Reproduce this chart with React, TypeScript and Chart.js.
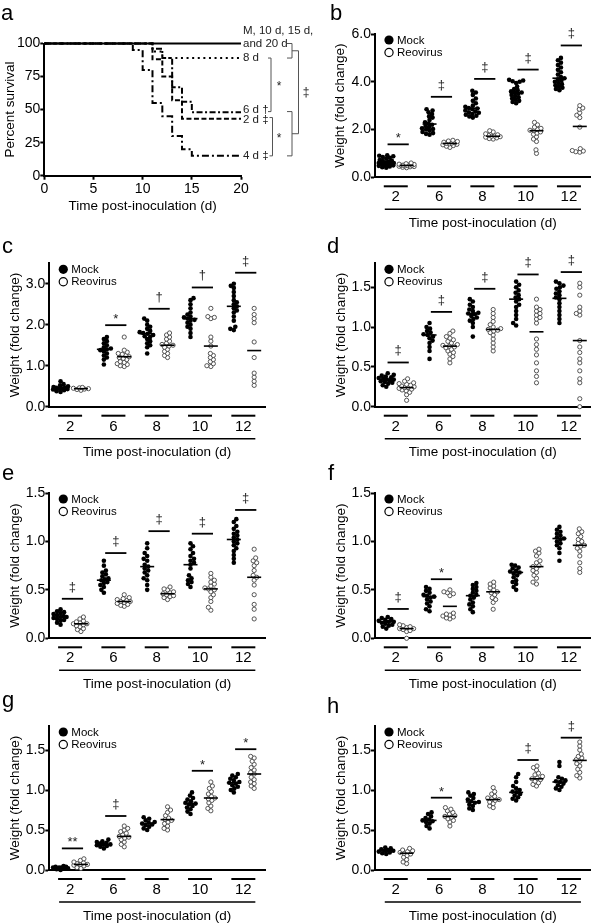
import React, { useEffect, useRef } from 'react';
import { Chart, registerables } from 'chart.js';

Chart.register(...registerables);

const FONT = "'Liberation Sans', Arial, Helvetica, sans-serif";

// ---------------- panel a : survival ----------------
const survXTicks = [0, 5, 10, 15, 20];
const survYTicks = [0, 25, 50, 75, 100];
const mDays = [0, 20];
const mSurv = [100, 100];
const d8Days = [0, 11, 12, 20];
const d8Surv = [100, 94, 89, 89];
const d6Days = [0, 11, 12, 13, 14, 15, 20];
const d6Surv = [100, 96, 89, 67, 56, 48, 48];
const d2Days = [0, 11, 12, 13, 14, 20];
const d2Surv = [100, 88, 75, 57, 43, 43];
const d4Days = [0, 9, 10, 11, 12, 13, 14, 15, 20];
const d4Surv = [100, 95, 80, 55, 45, 30, 20, 15, 15];
const endLabels = ['and 20 d', '8 d', '6 d \u2020', '2 d \u2021', '4 d \u2021'];
const endLabelAt = [100, 89, 50, 42.5, 15];

// ---------------- dot panels ----------------
const dayLabels = ['2', '6', '8', '10', '12'];

// b
const bYTicks = [0, 2, 4, 6];
const bMock = [
  [0.40, 0.42, 0.45, 0.48, 0.50, 0.52, 0.55, 0.56, 0.58, 0.60, 0.60, 0.62, 0.65, 0.68, 0.70, 0.72, 0.78, 0.82, 0.85, 0.88, 0.90, 0.92],
  [1.78, 1.82, 1.85, 1.90, 1.95, 2.00, 2.02, 2.05, 2.10, 2.15, 2.20, 2.25, 2.30, 2.40, 2.50, 2.55, 2.65, 2.72, 2.80, 2.85],
  [2.50, 2.55, 2.58, 2.62, 2.65, 2.70, 2.72, 2.75, 2.80, 2.85, 2.88, 2.90, 2.95, 3.00, 3.10, 3.20, 3.30, 3.45, 3.55, 3.62],
  [3.10, 3.15, 3.20, 3.25, 3.30, 3.35, 3.40, 3.45, 3.50, 3.55, 3.55, 3.60, 3.65, 3.70, 3.80, 3.95, 4.00, 4.02, 4.05, 4.08],
  [3.65, 3.70, 3.75, 3.80, 3.85, 3.90, 3.95, 4.00, 4.05, 4.10, 4.15, 4.20, 4.30, 4.40, 4.50, 4.60, 4.70, 4.80, 4.90, 5.00],
];
const bReo = [
  [0.40, 0.42, 0.44, 0.45, 0.46, 0.48, 0.49, 0.50, 0.50, 0.51, 0.52, 0.54, 0.55, 0.57, 0.60],
  [1.25, 1.30, 1.33, 1.36, 1.38, 1.40, 1.42, 1.43, 1.45, 1.47, 1.50, 1.52, 1.55],
  [1.60, 1.62, 1.65, 1.68, 1.70, 1.72, 1.73, 1.75, 1.78, 1.82, 1.90, 1.95],
  [1.00, 1.15, 1.50, 1.60, 1.70, 1.80, 1.85, 1.90, 1.95, 1.97, 2.00, 2.05, 2.10, 2.20, 2.30],
  [1.05, 1.07, 1.10, 1.12, 1.20, 2.10, 2.50, 2.60, 2.70, 2.85, 2.90, 3.00],
];
const bMockMed = [0.6, 2.23, 2.89, 3.55, 4.15];
const bReoMed = [0.5, 1.42, 1.72, 1.95, 2.13];
const bSigAt = [1.38, 3.37, 4.12, 4.51, 5.52];
const bSigMark = ['*', '\u2021', '\u2021', '\u2021', '\u2021'];

// c
const cYTicks = [0, 1, 2, 3];
const cMock = [
  [0.36, 0.38, 0.40, 0.42, 0.43, 0.44, 0.45, 0.46, 0.47, 0.48, 0.50, 0.52, 0.55, 0.62],
  [1.03, 1.15, 1.20, 1.25, 1.30, 1.35, 1.38, 1.40, 1.42, 1.45, 1.50, 1.55, 1.60, 1.65, 1.70],
  [1.30, 1.45, 1.50, 1.55, 1.60, 1.65, 1.70, 1.72, 1.75, 1.78, 1.80, 1.82, 1.85, 1.90, 1.95, 2.00, 2.10, 2.15],
  [1.70, 1.80, 1.90, 1.95, 2.00, 2.05, 2.10, 2.12, 2.15, 2.18, 2.20, 2.25, 2.30, 2.40, 2.50, 2.60, 2.65],
  [1.87, 1.90, 1.95, 2.10, 2.20, 2.30, 2.35, 2.40, 2.45, 2.50, 2.55, 2.60, 2.70, 2.80, 2.90, 2.95, 3.00],
];
const cReo = [
  [0.40, 0.42, 0.43, 0.44, 0.45, 0.46, 0.47],
  [0.98, 1.00, 1.03, 1.05, 1.08, 1.10, 1.15, 1.18, 1.20, 1.22, 1.25, 1.28, 1.30, 1.33, 1.38, 1.70],
  [1.20, 1.25, 1.30, 1.35, 1.40, 1.45, 1.48, 1.50, 1.52, 1.55, 1.60, 1.65, 1.70, 1.75, 1.80],
  [0.98, 1.00, 1.05, 1.10, 1.15, 1.20, 1.25, 1.30, 1.48, 1.60, 1.70, 2.15, 2.18, 2.20, 2.40],
  [0.52, 0.62, 0.72, 0.82, 1.20, 1.58, 2.05, 2.15, 2.25, 2.40],
];
const cMockMed = [0.45, 1.4, 1.78, 2.15, 2.45];
const cReoMed = [0.44, 1.22, 1.5, 1.48, 1.37];
const cSigAt = [null, 1.99, 2.39, 2.91, 3.27];
const cSigMark = [null, '*', '\u2020', '\u2020', '\u2021'];

// d
const dYTicks = [0, 0.5, 1, 1.5];
const dMock = [
  [0.25, 0.27, 0.29, 0.30, 0.31, 0.32, 0.33, 0.34, 0.34, 0.35, 0.36, 0.37, 0.38, 0.39, 0.40, 0.42],
  [0.60, 0.70, 0.75, 0.80, 0.83, 0.86, 0.88, 0.90, 0.91, 0.93, 0.95, 0.98, 1.00, 1.05],
  [0.88, 1.00, 1.05, 1.08, 1.10, 1.12, 1.14, 1.16, 1.17, 1.18, 1.20, 1.22, 1.25, 1.28, 1.32, 1.35],
  [1.02, 1.05, 1.10, 1.15, 1.20, 1.25, 1.28, 1.32, 1.35, 1.37, 1.40, 1.43, 1.46, 1.50, 1.53, 1.57],
  [1.05, 1.10, 1.15, 1.20, 1.25, 1.30, 1.35, 1.37, 1.40, 1.42, 1.45, 1.48, 1.50, 1.52, 1.55, 1.57],
];
const dReo = [
  [0.08, 0.15, 0.18, 0.20, 0.21, 0.22, 0.23, 0.24, 0.24, 0.25, 0.26, 0.27, 0.28, 0.29, 0.30, 0.32, 0.35],
  [0.55, 0.60, 0.63, 0.66, 0.68, 0.70, 0.72, 0.74, 0.75, 0.76, 0.77, 0.78, 0.80, 0.82, 0.84, 0.86, 0.88, 0.92, 0.95],
  [0.70, 0.75, 0.80, 0.85, 0.90, 0.93, 0.95, 0.96, 0.97, 0.98, 1.00, 1.03, 1.07, 1.12, 1.17, 1.22],
  [0.30, 0.38, 0.45, 0.55, 0.65, 0.72, 0.78, 0.85, 1.05, 1.10, 1.12, 1.15, 1.17, 1.20, 1.22, 1.25, 1.35],
  [0.00, 0.10, 0.30, 0.35, 0.45, 0.55, 0.60, 0.68, 0.75, 0.83, 1.15, 1.17, 1.20, 1.25, 1.40, 1.50, 1.55],
];
const dMockMed = [0.34, 0.9, 1.17, 1.35, 1.36];
const dReoMed = [0.24, 0.76, 0.97, 0.94, 0.83];
const dSigAt = [0.555, 1.19, 1.48, 1.66, 1.69];
const dSigMark = ['\u2021', '\u2021', '\u2021', '\u2021', '\u2021'];

// e
const eYTicks = [0, 0.5, 1, 1.5];
const eMock = [
  [0.14, 0.16, 0.18, 0.19, 0.20, 0.21, 0.22, 0.22, 0.23, 0.24, 0.25, 0.26, 0.27, 0.28, 0.30],
  [0.47, 0.50, 0.53, 0.55, 0.57, 0.58, 0.60, 0.61, 0.62, 0.64, 0.66, 0.68, 0.70, 0.75, 0.80],
  [0.50, 0.55, 0.60, 0.62, 0.65, 0.68, 0.70, 0.72, 0.74, 0.76, 0.80, 0.82, 0.85, 0.88, 0.93, 0.98],
  [0.53, 0.56, 0.58, 0.60, 0.62, 0.65, 0.72, 0.76, 0.78, 0.80, 0.82, 0.85, 0.88, 0.92, 0.95, 0.98],
  [0.78, 0.82, 0.86, 0.90, 0.93, 0.96, 0.98, 1.00, 1.02, 1.04, 1.06, 1.08, 1.10, 1.13, 1.16, 1.20, 1.23],
];
const eReo = [
  [0.07, 0.09, 0.10, 0.12, 0.13, 0.14, 0.15, 0.15, 0.16, 0.17, 0.18, 0.20, 0.22],
  [0.33, 0.34, 0.35, 0.36, 0.37, 0.38, 0.38, 0.39, 0.40, 0.41, 0.42, 0.45],
  [0.40, 0.42, 0.43, 0.44, 0.45, 0.46, 0.47, 0.48, 0.50, 0.51, 0.53],
  [0.29, 0.32, 0.38, 0.42, 0.45, 0.48, 0.50, 0.51, 0.52, 0.54, 0.56, 0.58, 0.60, 0.63, 0.67],
  [0.20, 0.30, 0.35, 0.45, 0.55, 0.60, 0.63, 0.65, 0.70, 0.75, 0.78, 0.80, 0.83, 0.92],
];
const eMockMed = [0.22, 0.6, 0.74, 0.76, 1.02];
const eReoMed = [0.15, 0.38, 0.46, 0.51, 0.63];
const eSigAt = [0.408, 0.88, 1.106, 1.08, 1.325];
const eSigMark = ['\u2021', '\u2021', '\u2021', '\u2021', '\u2021'];

// f
const fYTicks = [0, 0.5, 1, 1.5];
const fMock = [
  [0.10, 0.12, 0.13, 0.14, 0.15, 0.16, 0.17, 0.17, 0.18, 0.19, 0.20, 0.21, 0.22],
  [0.28, 0.30, 0.33, 0.36, 0.38, 0.40, 0.42, 0.43, 0.44, 0.45, 0.47, 0.49, 0.51, 0.53],
  [0.27, 0.30, 0.33, 0.35, 0.37, 0.40, 0.42, 0.44, 0.45, 0.47, 0.49, 0.51, 0.53, 0.55, 0.57],
  [0.50, 0.53, 0.56, 0.58, 0.60, 0.63, 0.65, 0.67, 0.68, 0.69, 0.70, 0.72, 0.73, 0.75, 0.76],
  [0.80, 0.88, 0.93, 0.96, 0.98, 1.00, 1.02, 1.03, 1.04, 1.06, 1.08, 1.10, 1.12, 1.15],
];
const fReo = [
  [0.00, 0.07, 0.08, 0.09, 0.10, 0.10, 0.11, 0.12, 0.13, 0.14],
  [0.20, 0.21, 0.22, 0.23, 0.24, 0.25, 0.26, 0.44, 0.46, 0.47, 0.48, 0.50],
  [0.30, 0.37, 0.40, 0.42, 0.45, 0.47, 0.48, 0.50, 0.52, 0.54, 0.56, 0.58],
  [0.56, 0.58, 0.62, 0.65, 0.68, 0.70, 0.72, 0.74, 0.75, 0.78, 0.80, 0.85, 0.88, 0.90, 0.92],
  [0.68, 0.72, 0.78, 0.85, 0.90, 0.93, 0.95, 0.96, 0.98, 1.00, 1.02, 1.05, 1.08, 1.10, 1.13],
];
const fMockMed = [0.17, 0.43, 0.44, 0.68, 1.03];
const fReoMed = [0.1, 0.33, 0.48, 0.74, 0.96];
const fSigAt = [0.303, 0.61, null, null, null];
const fSigMark = ['\u2021', '*', null, null, null];

// g
const gYTicks = [0, 0.5, 1, 1.5];
const gMock = [
  [0.00, 0.01, 0.02, 0.02, 0.03, 0.03, 0.03, 0.04, 0.04, 0.05],
  [0.27, 0.29, 0.30, 0.31, 0.32, 0.32, 0.33, 0.34, 0.35, 0.36, 0.38],
  [0.50, 0.52, 0.54, 0.56, 0.57, 0.58, 0.59, 0.60, 0.62, 0.64, 0.66],
  [0.70, 0.73, 0.76, 0.78, 0.80, 0.82, 0.83, 0.84, 0.86, 0.88, 0.90, 0.93, 0.97],
  [0.97, 1.00, 1.02, 1.04, 1.06, 1.08, 1.09, 1.10, 1.12, 1.14, 1.16, 1.18, 1.20],
];
const gReo = [
  [0.02, 0.03, 0.05, 0.06, 0.07, 0.07, 0.08, 0.09, 0.10, 0.12, 0.14],
  [0.29, 0.32, 0.35, 0.38, 0.40, 0.41, 0.42, 0.44, 0.46, 0.48, 0.50, 0.52, 0.55],
  [0.50, 0.52, 0.55, 0.58, 0.60, 0.62, 0.63, 0.65, 0.68, 0.72, 0.75, 0.79],
  [0.74, 0.77, 0.80, 0.84, 0.87, 0.89, 0.90, 0.92, 0.95, 0.98, 1.02, 1.05, 1.10],
  [1.02, 1.05, 1.08, 1.10, 1.13, 1.16, 1.20, 1.22, 1.25, 1.28, 1.32, 1.36, 1.40, 1.42],
];
const gMockMed = [0.03, 0.32, 0.58, 0.83, 1.09];
const gReoMed = [0.07, 0.42, 0.63, 0.9, 1.2];
const gSigAt = [0.27, 0.675, null, 1.24, 1.51];
const gSigMark = ['**', '\u2021', null, '*', '*'];

// h
const hYTicks = [0, 0.5, 1, 1.5];
const hMock = [
  [0.20, 0.21, 0.22, 0.23, 0.24, 0.24, 0.25, 0.26, 0.27, 0.28],
  [0.52, 0.55, 0.58, 0.60, 0.61, 0.62, 0.63, 0.65, 0.67, 0.70, 0.72],
  [0.75, 0.77, 0.80, 0.82, 0.84, 0.85, 0.86, 0.88, 0.90, 0.93, 0.95, 0.97],
  [0.87, 0.89, 0.91, 0.93, 0.95, 0.97, 0.98, 1.00, 1.02, 1.05, 1.10, 1.16, 1.20],
  [1.00, 1.02, 1.04, 1.06, 1.08, 1.10, 1.11, 1.12, 1.14, 1.16, 1.30, 1.35],
];
const hReo = [
  [0.08, 0.10, 0.13, 0.16, 0.18, 0.20, 0.21, 0.22, 0.23, 0.24, 0.25, 0.27],
  [0.55, 0.60, 0.62, 0.64, 0.66, 0.67, 0.68, 0.70, 0.72, 0.74, 0.76, 0.78],
  [0.78, 0.80, 0.83, 0.85, 0.87, 0.88, 0.89, 0.90, 0.92, 0.95, 0.98, 1.03],
  [1.05, 1.07, 1.09, 1.11, 1.13, 1.14, 1.15, 1.17, 1.19, 1.21, 1.25, 1.28, 1.30],
  [1.15, 1.18, 1.22, 1.26, 1.30, 1.33, 1.36, 1.38, 1.40, 1.42, 1.45, 1.50, 1.55, 1.60],
];
const hMockMed = [0.24, 0.62, 0.85, 0.97, 1.1];
const hReoMed = [0.21, 0.67, 0.88, 1.14, 1.37];
const hSigAt = [null, 0.904, null, 1.375, 1.654];
const hSigMark = [null, '*', null, '\u2021', '\u2021'];

// ---------------- helpers ----------------
const X_MIN = -0.48;
const X_MAX = 4.5;
const MOCK_OFF = -0.22;
const REO_OFF = 0.25;
const SWARM_D = 3.6;
const SWARM_CAP = 7.5;

// compact beeswarm: closest-to-centre free slot within +/-cap, else least-crowded slot
function swarm(vals: number[], pxY: number, d: number, cap: number): number[] {
  const idx = vals.map((_, i) => i).sort((a, b) => vals[a] - vals[b]);
  const placed: { x: number; y: number }[] = [];
  const out = new Array(vals.length).fill(0);
  const slots: number[] = [0];
  for (let k = 0.5; k <= cap + 1e-9; k += 0.5) slots.push(k, -k);
  for (const i of idx) {
    const y = vals[i] * pxY;
    const flip = placed.length % 2 ? 1 : -1;
    const order = slots.slice().sort((a, b) => Math.abs(a) - Math.abs(b) || flip * (a - b));
    let best = 0;
    let bestScore = -1;
    let found = false;
    for (const c of order) {
      let minD = Infinity;
      for (const p of placed) {
        const dd = Math.hypot(c - p.x, p.y - y);
        if (dd < minD) minD = dd;
      }
      if (minD >= d) { best = c; found = true; break; }
      if (minD > bestScore + 0.05) { bestScore = minD; best = c; }
    }
    if (!found && placed.length === 0) best = 0;
    placed.push({ x: best, y });
    out[i] = best;
  }
  return out;
}

function seg(ctx: any, x1: number, y1: number, x2: number, y2: number, w: number, color = '#000') {
  ctx.beginPath();
  ctx.moveTo(x1, y1);
  ctx.lineTo(x2, y2);
  ctx.lineWidth = w;
  ctx.strokeStyle = color;
  ctx.setLineDash([]);
  ctx.stroke();
}

function symbol(ctx: any, text: string, x: number, lineY: number) {
  ctx.font = `13px ${FONT}`;
  ctx.textAlign = 'center';
  ctx.textBaseline = 'alphabetic';
  ctx.fillStyle = '#222';
  const m = ctx.measureText(text);
  ctx.fillText(text, x, lineY - 6 - m.actualBoundingBoxDescent);
}

function letter(ctx: any, l: string, x: number, y: number) {
  ctx.font = `22px ${FONT}`;
  ctx.textAlign = 'left';
  ctx.textBaseline = 'alphabetic';
  ctx.fillStyle = '#000';
  ctx.fillText(l, x, y);
}

const tickFont = { family: FONT, size: 14 };
const titleFont = { family: FONT, size: 13.5 };

// ---------------- panel a config ----------------
function survConfig(box: any) {
  const a = { l: 44.3, t: 43.5, r: 241, b: 175.7 };
  const curves = [
    { days: mDays, surv: mSurv, dash: [] as number[] },
    { days: d8Days, surv: d8Surv, dash: [2, 3.6] },
    { days: d6Days, surv: d6Surv, dash: [6, 2.5, 2, 2.5] },
    { days: d2Days, surv: d2Surv, dash: [5, 2.5] },
    { days: d4Days, surv: d4Surv, dash: [7, 3, 2, 3] },
  ];
  const deco = {
    id: 'decoA',
    afterDraw(chart: any) {
      const ctx = chart.ctx;
      const xs = chart.scales.x;
      const ys = chart.scales.y;
      ctx.save();
      const x20 = xs.getPixelForValue(20);
      ctx.font = `11.5px ${FONT}`;
      ctx.fillStyle = '#222';
      ctx.textAlign = 'left';
      ctx.textBaseline = 'middle';
      ctx.fillText('M, 10 d, 15 d,', x20 + 2, ys.getPixelForValue(100) - 13);
      endLabels.forEach((t, i) => ctx.fillText(t, x20 + 2, ys.getPixelForValue(endLabelAt[i])));
      const g = '#555';
      const bracket = (xv: number, len: number, v1: number, v2: number) => {
        const y1 = ys.getPixelForValue(v1);
        const y2 = ys.getPixelForValue(v2);
        ctx.beginPath();
        ctx.moveTo(xv - len, y1);
        ctx.lineTo(xv, y1);
        ctx.lineTo(xv, y2);
        ctx.lineTo(xv - len, y2);
        ctx.lineWidth = 1;
        ctx.strokeStyle = g;
        ctx.setLineDash([]);
        ctx.stroke();
      };
      bracket(x20 + 51, 5, 100, 89);
      bracket(x20 + 30, 3, 89, 48.5);
      bracket(x20 + 31.5, 3, 44, 15);
      bracket(x20 + 51, 5, 48.5, 15);
      bracket(x20 + 57.5, 6.5, 94.5, 31.75);
      ctx.font = `12px ${FONT}`;
      ctx.textAlign = 'center';
      ctx.fillStyle = '#222';
      ctx.fillText('*', x20 + 38, ys.getPixelForValue(68.75) + 2);
      ctx.fillText('*', x20 + 38, ys.getPixelForValue(29.5) + 2);
      ctx.fillText('\u2021', x20 + 65, ys.getPixelForValue(63));
      letter(ctx, 'a', 1 - box.x, 19.5 - box.y);
      ctx.restore();
    },
  };
  return {
    type: 'line',
    data: {
      datasets: curves.map((c) => ({
        data: c.days.map((d, i) => ({ x: d, y: c.surv[i] })),
        stepped: 'before',
        borderColor: '#000',
        borderWidth: 2,
        borderDash: c.dash,
        pointRadius: 0,
        fill: false,
        clip: false,
      })),
    },
    options: {
      animation: false,
      responsive: false,
      events: [],
      layout: { autoPadding: false, padding: { left: 0, top: a.t - box.y, right: box.x + box.w - a.r, bottom: 0 } },
      plugins: { legend: { display: false }, tooltip: { enabled: false } },
      scales: {
        x: {
          type: 'linear', min: 0, max: 20,
          afterBuildTicks: (s: any) => { s.ticks = survXTicks.map((v) => ({ value: v })); },
          ticks: { font: tickFont, color: '#000', padding: 1, maxRotation: 0, autoSkip: false },
          grid: { display: true, drawOnChartArea: false, drawTicks: true, tickLength: 4, tickWidth: 2, tickColor: '#000' },
          border: { display: true, color: '#000', width: 2 },
          title: { display: true, text: 'Time post-inoculation (d)', font: titleFont, color: '#000', padding: { top: 0, bottom: 20.9 } },
          afterFit: (s: any) => { s.height = box.y + box.h - a.b; },
        },
        y: {
          type: 'linear', min: 0, max: 100,
          afterBuildTicks: (s: any) => { s.ticks = survYTicks.map((v) => ({ value: v })); },
          ticks: { font: tickFont, color: '#000', padding: 0 },
          grid: { display: true, drawOnChartArea: false, drawTicks: true, tickLength: 4, tickWidth: 2, tickColor: '#000' },
          border: { display: true, color: '#000', width: 2 },
          title: { display: true, text: 'Percent survival', font: titleFont, color: '#000', padding: { top: 10 - box.x - 8.1, bottom: 0 } },
          afterFit: (s: any) => { s.width = a.l - box.x; },
        },
      },
    },
    plugins: [deco],
  };
}

// ---------------- dot panel config ----------------
function dotConfig(s: any) {
  const c = s.box;
  const a = s.area;
  const pxY = (a.b - a.t) / s.yMax;
  const pxX = (a.r - a.l) / (X_MAX - X_MIN);
  const pts = (groups: number[][], off: number) =>
    groups.flatMap((vals, g) => {
      const o = swarm(vals, pxY, SWARM_D, SWARM_CAP);
      return vals.map((v, i) => ({ x: g + off + o[i] / pxX, y: v }));
    });
  const deco = {
    id: 'decoDot',
    afterDraw(chart: any) {
      const ctx = chart.ctx;
      const xs = chart.scales.x;
      const ys = chart.scales.y;
      const ca = chart.chartArea;
      ctx.save();
      for (let g = 0; g < dayLabels.length; g++) {
        const xm = xs.getPixelForValue(g + MOCK_OFF);
        const xr = xs.getPixelForValue(g + REO_OFF);
        const ym = ys.getPixelForValue(s.mockMed[g]);
        const yr = ys.getPixelForValue(s.reoMed[g]);
        seg(ctx, xm - 7, ym, xm + 7, ym, 1.6);
        seg(ctx, xr - 7, yr, xr + 7, yr, 1.6);
        if (s.sigAt[g] != null) {
          const y = ys.getPixelForValue(s.sigAt[g]);
          const x1 = xs.getPixelForValue(g - 0.19);
          const x2 = xs.getPixelForValue(g + 0.3);
          seg(ctx, x1, y, x2, y, 1.8);
          symbol(ctx, s.sigMark[g], (x1 + x2) / 2, y);
        }
        const xc = xs.getPixelForValue(g);
        seg(ctx, xc - 12, ca.bottom + 9, xc + 12, ca.bottom + 9, 2);
      }
      seg(ctx, xs.getPixelForValue(0) - 11, ca.bottom + 32, xs.getPixelForValue(dayLabels.length - 1) + 12, ca.bottom + 32, 1.5);
      // legend
      const lx = ca.left + 14;
      const ly = ca.top + 6;
      ctx.beginPath();
      ctx.arc(lx, ly, 4.6, 0, Math.PI * 2);
      ctx.fillStyle = '#000';
      ctx.fill();
      ctx.beginPath();
      ctx.arc(lx, ly + 12.5, 4.1, 0, Math.PI * 2);
      ctx.lineWidth = 1.2;
      ctx.strokeStyle = '#000';
      ctx.stroke();
      ctx.font = `11.5px ${FONT}`;
      ctx.textAlign = 'left';
      ctx.textBaseline = 'middle';
      ctx.fillStyle = '#000';
      ctx.fillText('Mock', lx + 8, ly + 0.5);
      ctx.fillText('Reovirus', lx + 8, ly + 13);
      letter(ctx, s.letter, s.letterAt[0] - c.x, s.letterAt[1] - c.y);
      ctx.restore();
    },
  };
  return {
    type: 'scatter',
    data: {
      datasets: [
        { label: 'Mock', data: pts(s.mock, MOCK_OFF), pointRadius: 2.3, pointBackgroundColor: '#000', pointBorderColor: '#000', pointBorderWidth: 0, clip: false },
        { label: 'Reovirus', data: pts(s.reo, REO_OFF), pointRadius: 2.1, pointBackgroundColor: '#fff', pointBorderColor: '#444', pointBorderWidth: 0.9, clip: false },
      ],
    },
    options: {
      animation: false,
      responsive: false,
      events: [],
      layout: { autoPadding: false, padding: { left: 0, top: a.t - c.y, right: c.x + c.w - a.r, bottom: 0 } },
      plugins: { legend: { display: false }, tooltip: { enabled: false } },
      scales: {
        x: {
          type: 'linear', position: 'bottom', min: X_MIN, max: X_MAX,
          afterBuildTicks: (sc: any) => { sc.ticks = dayLabels.map((_, i) => ({ value: i })); },
          ticks: { callback: (v: any) => dayLabels[v] ?? '', font: { family: FONT, size: 15 }, color: '#000', padding: 11, maxRotation: 0, autoSkip: false },
          grid: { display: false, drawTicks: false },
          border: { display: true, color: '#000', width: 2 },
          title: { display: true, text: 'Time post-inoculation (d)', font: titleFont, color: '#000', padding: { top: 0, bottom: Math.max(0, c.y + c.h - a.b - 46 - 8.1) } },
          afterFit: (sc: any) => { sc.height = c.y + c.h - a.b; },
        },
        y: {
          type: 'linear', position: 'left', min: 0, max: s.yMax,
          afterBuildTicks: (sc: any) => { sc.ticks = s.yTicks.map((v: number) => ({ value: v })); },
          ticks: { callback: (v: any) => Number(v).toFixed(1), font: tickFont, color: '#000', padding: 0 },
          grid: { display: true, drawOnChartArea: false, drawTicks: true, tickLength: 4, tickWidth: 2, tickColor: '#000' },
          border: { display: true, color: '#000', width: 2 },
          title: { display: true, text: 'Weight (fold change)', font: titleFont, color: '#000', padding: { top: s.yTitleX - c.x - 8.1, bottom: 0 } },
          afterFit: (sc: any) => { sc.width = a.l - c.x; },
        },
      },
    },
    plugins: [deco],
  };
}

const LEFT_AREA = { l: 49.3, r: 265 };
const RIGHT_AREA = { l: 375, r: 590.6 };

const dotPanels = [
  { letter: 'b', letterAt: [330, 20], box: { x: 300, y: 0, w: 292, h: 235 }, area: { ...RIGHT_AREA, t: 34, b: 177.3 }, yTitleX: 340, yMax: 6, yTicks: bYTicks, mock: bMock, reo: bReo, mockMed: bMockMed, reoMed: bReoMed, sigAt: bSigAt, sigMark: bSigMark },
  { letter: 'c', letterAt: [2, 253], box: { x: 0, y: 232, w: 300, h: 233 }, area: { ...LEFT_AREA, t: 263.3, b: 406.7 }, yTitleX: 15, yMax: 3.5, yTicks: cYTicks, mock: cMock, reo: cReo, mockMed: cMockMed, reoMed: cReoMed, sigAt: cSigAt, sigMark: cSigMark },
  { letter: 'd', letterAt: [327, 253], box: { x: 300, y: 232, w: 292, h: 233 }, area: { ...RIGHT_AREA, t: 263.3, b: 406.7 }, yTitleX: 341, yMax: 1.8, yTicks: dYTicks, mock: dMock, reo: dReo, mockMed: dMockMed, reoMed: dReoMed, sigAt: dSigAt, sigMark: dSigMark },
  { letter: 'e', letterAt: [2, 480], box: { x: 0, y: 458, w: 300, h: 242 }, area: { ...LEFT_AREA, t: 493, b: 638.3 }, yTitleX: 15, yMax: 1.5, yTicks: eYTicks, mock: eMock, reo: eReo, mockMed: eMockMed, reoMed: eReoMed, sigAt: eSigAt, sigMark: eSigMark },
  { letter: 'f', letterAt: [328, 480], box: { x: 300, y: 458, w: 292, h: 242 }, area: { ...RIGHT_AREA, t: 493, b: 638.3 }, yTitleX: 341, yMax: 1.5, yTicks: fYTicks, mock: fMock, reo: fReo, mockMed: fMockMed, reoMed: fReoMed, sigAt: fSigAt, sigMark: fSigMark },
  { letter: 'g', letterAt: [2, 707], box: { x: 0, y: 686, w: 300, h: 238 }, area: { ...LEFT_AREA, t: 726, b: 870 }, yTitleX: 15, yMax: 1.8, yTicks: gYTicks, mock: gMock, reo: gReo, mockMed: gMockMed, reoMed: gReoMed, sigAt: gSigAt, sigMark: gSigMark },
  { letter: 'h', letterAt: [327, 713], box: { x: 300, y: 686, w: 292, h: 238 }, area: { ...RIGHT_AREA, t: 726, b: 870 }, yTitleX: 341, yMax: 1.8, yTicks: hYTicks, mock: hMock, reo: hReo, mockMed: hMockMed, reoMed: hReoMed, sigAt: hSigAt, sigMark: hSigMark },
];

const survBox = { x: 0, y: 0, w: 320, h: 235 };

function ChartCanvas({ box, make }: { box: any; make: () => any }) {
  const ref = useRef<HTMLCanvasElement>(null);
  useEffect(() => {
    const chart = new Chart(ref.current as HTMLCanvasElement, make());
    return () => chart.destroy();
  }, []);
  return (
    <canvas
      ref={ref}
      width={box.w}
      height={box.h}
      style={{ position: 'absolute', left: box.x, top: box.y, width: box.w, height: box.h }}
    />
  );
}

export default function App() {
  return (
    <div style={{ position: 'absolute', left: 0, top: 0, width: 592, height: 924, overflow: 'hidden', background: '#fff' }}>
      <ChartCanvas box={survBox} make={() => survConfig(survBox)} />
      {dotPanels.map((p) => (
        <ChartCanvas key={p.letter} box={p.box} make={() => dotConfig(p)} />
      ))}
    </div>
  );
}
